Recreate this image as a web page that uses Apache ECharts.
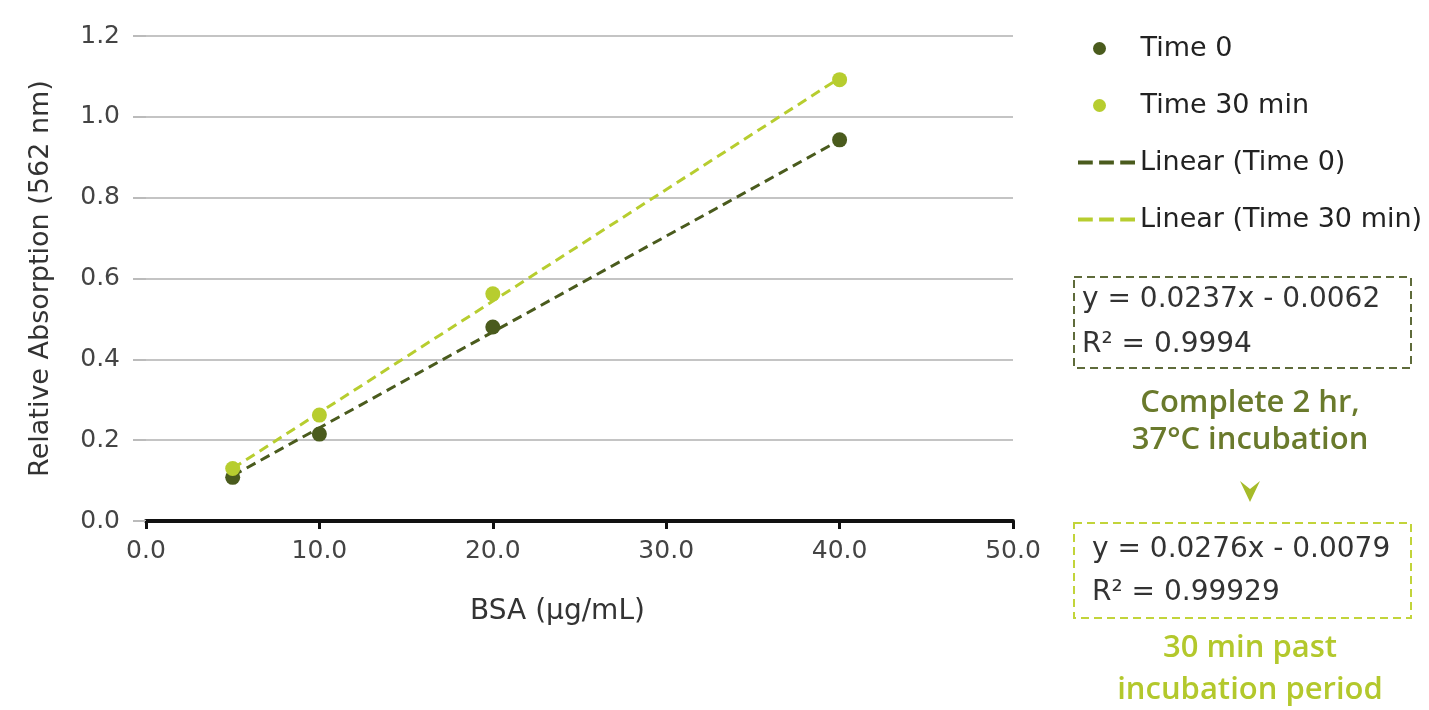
<!DOCTYPE html>
<html>
<head>
<meta charset="utf-8">
<script src="https://cdn.jsdelivr.net/npm/echarts@6/dist/echarts.min.js"></script>
<style>
html,body{margin:0;padding:0;background:#fff;}
#chart{width:1429px;height:710px;}
</style>
</head>
<body>
<div id="chart"></div>
<script>
// ---- data ----
const xValues = [5, 10, 20, 40];
const time0 = [0.108, 0.215, 0.480, 0.943];
const time30 = [0.130, 0.262, 0.562, 1.092];
const trend0Ends = [[5, 0.112], [40, 0.942]];
const trend30Ends = [[5, 0.130], [40, 1.096]];
const seriesNames = ['Time 0', 'Time 30 min', 'Linear (Time 0)', 'Linear (Time 30 min)'];
const eq0 = ['y = 0.0237x - 0.0062', 'R² = 0.9994'];
const eq30 = ['y = 0.0276x - 0.0079', 'R² = 0.99929'];
const note0 = ['Complete 2 hr,', '37°C incubation'];
const note30 = ['30 min past', 'incubation period'];

const DARK = '#4a5b1d';
const LIME = '#b7cd2f';
const FONT = '"DejaVu Sans", sans-serif';
const NOTEFONT = '"Open Sans", sans-serif';
const DASH_ICON = 'path://M0,0h14v4h-14z M20,0h14v4h-14z M40,0h14v4h-14z';

const chart = echarts.init(document.getElementById('chart'));
const pts = (ys) => xValues.map((x, i) => [x, ys[i]]);
const legendText = { fontSize: 27, color: '#222', fontFamily: FONT };

chart.setOption({
  backgroundColor: '#ffffff',
  animation: false,
  textStyle: { fontFamily: FONT },
  grid: { left: 146, right: 416, top: 36, bottom: 189, containLabel: false },
  xAxis: {
    type: 'value', min: 0, max: 50, interval: 10,
    name: 'BSA (µg/mL)', nameLocation: 'middle', nameGap: 77,
    nameTextStyle: { fontSize: 28, color: '#333', fontFamily: FONT, padding: [0, 44, 0, 0] },
    axisLine: { show: true, lineStyle: { color: '#111', width: 4 } },
    axisTick: { show: true, length: 8, lineStyle: { color: '#111', width: 3 } },
    axisLabel: { fontSize: 25, color: '#444', margin: 18, formatter: v => v.toFixed(1), fontFamily: FONT },
    splitLine: { show: false }
  },
  yAxis: {
    type: 'value', min: 0, max: 1.2, interval: 0.2,
    name: 'Relative Absorption (562 nm)', nameLocation: 'middle', nameGap: 92,
    nameTextStyle: { fontSize: 27, color: '#333', fontFamily: FONT },
    axisLine: { show: false },
    axisTick: { show: true, length: 13, lineStyle: { color: '#bbb', width: 2 } },
    axisLabel: { fontSize: 25, color: '#444', margin: 26, formatter: v => v.toFixed(1), fontFamily: FONT },
    splitLine: { show: true, lineStyle: { color: '#c4c4c4', width: 2 } }
  },
  legend: [
    {
      orient: 'vertical', left: 1088, top: 30, itemWidth: 72, itemHeight: 13, itemGap: 30,
      textStyle: legendText,
      data: [
        { name: seriesNames[0], icon: 'circle', itemStyle: { color: DARK } },
        { name: seriesNames[1], icon: 'circle', itemStyle: { color: LIME } }
      ]
    },
    {
      orient: 'vertical', left: 1073, top: 144, itemWidth: 57, itemHeight: 13, itemGap: 30,
      textStyle: legendText,
      data: [
        { name: seriesNames[2], icon: DASH_ICON, itemStyle: { color: DARK } },
        { name: seriesNames[3], icon: DASH_ICON, itemStyle: { color: LIME } }
      ]
    }
  ],
  series: [
    {
      name: seriesNames[2], type: 'line', data: trend0Ends, symbol: 'none', z: 2,
      lineStyle: { color: DARK, width: 3, type: [10, 6] }, itemStyle: { color: DARK }
    },
    {
      name: seriesNames[3], type: 'line', data: trend30Ends, symbol: 'none', z: 2,
      lineStyle: { color: LIME, width: 3, type: [10, 6] }, itemStyle: { color: LIME }
    },
    {
      name: seriesNames[0], type: 'scatter', data: pts(time0), symbolSize: 15, z: 3,
      itemStyle: { color: DARK, opacity: 1 }
    },
    {
      name: seriesNames[1], type: 'scatter', data: pts(time30), symbolSize: 15, z: 3,
      itemStyle: { color: LIME, opacity: 1 }
    }
  ],
  graphic: [
    { type: 'rect', shape: { x: 1074, y: 277, width: 337, height: 91 },
      style: { fill: 'none', stroke: '#5e6b3a', lineWidth: 2, lineDash: [8, 5] } },
    { type: 'text', x: 1082, y: 300, style: { text: eq0[0], font: '28px ' + FONT, fill: '#333', verticalAlign: 'middle' } },
    { type: 'text', x: 1082, y: 345, style: { text: eq0[1], font: '28px ' + FONT, fill: '#333', verticalAlign: 'middle' } },
    { type: 'text', x: 1250, y: 403, style: { text: note0[0], font: '600 31px ' + NOTEFONT, fill: '#6a7a2c', align: 'center', verticalAlign: 'middle' } },
    { type: 'text', x: 1250, y: 440, style: { text: note0[1], font: '600 31px ' + NOTEFONT, fill: '#6a7a2c', align: 'center', verticalAlign: 'middle' } },
    { type: 'polygon', shape: { points: [[1240, 481], [1250, 489], [1260, 481], [1250, 502]] },
      style: { fill: '#a6bb2a' } },
    { type: 'rect', shape: { x: 1074, y: 523, width: 337, height: 95 },
      style: { fill: 'none', stroke: '#c2d43a', lineWidth: 2, lineDash: [8, 5] } },
    { type: 'text', x: 1092, y: 550, style: { text: eq30[0], font: '28px ' + FONT, fill: '#333', verticalAlign: 'middle' } },
    { type: 'text', x: 1092, y: 593, style: { text: eq30[1], font: '28px ' + FONT, fill: '#333', verticalAlign: 'middle' } },
    { type: 'text', x: 1250, y: 648, style: { text: note30[0], font: '600 31px ' + NOTEFONT, fill: '#b3c82c', align: 'center', verticalAlign: 'middle' } },
    { type: 'text', x: 1250, y: 690, style: { text: note30[1], font: '600 31px ' + NOTEFONT, fill: '#b3c82c', align: 'center', verticalAlign: 'middle' } }
  ]
});
</script>
</body>
</html>
